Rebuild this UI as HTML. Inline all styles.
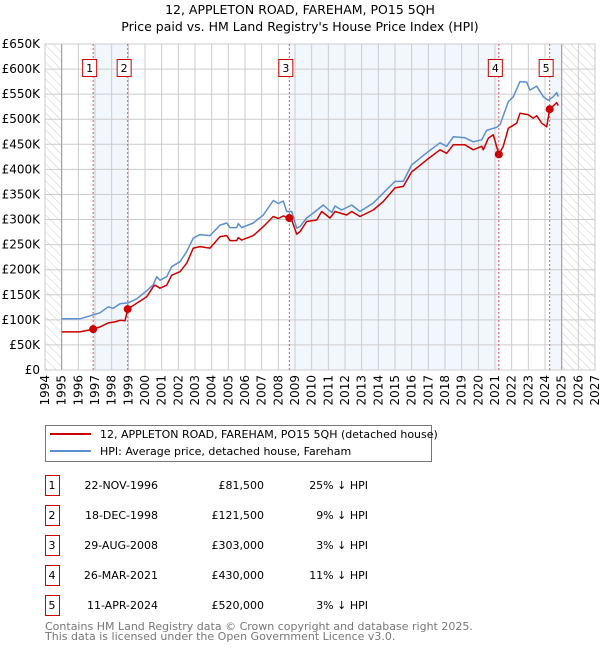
<!DOCTYPE html>
<html><head><meta charset="utf-8"><style>
body{margin:0;background:#fff;width:600px;height:650px;overflow:hidden;font-family:"DejaVu Sans","Liberation Sans",sans-serif}
svg{display:block}
</style></head><body>
<svg id="chart" width="600" height="650" xmlns="http://www.w3.org/2000/svg" font-family="DejaVu Sans, Liberation Sans, sans-serif">
<defs>
<pattern id="hatch" width="6" height="6" patternUnits="userSpaceOnUse" patternTransform="rotate(-45)">
<line x1="0" y1="0" x2="0" y2="6" stroke="#ccc" stroke-width="1"/>
</pattern>
</defs>
<text x="300" y="14" text-anchor="middle" font-size="12.5">12, APPLETON ROAD, FAREHAM, PO15 5QH</text>
<text x="300" y="31" text-anchor="middle" font-size="12.5">Price paid vs. HM Land Registry's House Price Index (HPI)</text>
<g id="plot"></g>
<g id="legend">
<rect x="45.5" y="425.5" width="386" height="36" fill="#fff" stroke="#777"/>
<line x1="50" y1="434" x2="91" y2="434" stroke="#cc0000" stroke-width="2"/>
<text x="100" y="438" font-size="11">12, APPLETON ROAD, FAREHAM, PO15 5QH (detached house)</text>
<line x1="50" y1="451" x2="91" y2="451" stroke="#5b8fd1" stroke-width="2"/>
<text x="100" y="455" font-size="11">HPI: Average price, detached house, Fareham</text>
</g>
<g id="table" font-size="11"></g>
<text x="45" y="630" font-size="11" fill="#777">Contains HM Land Registry data © Crown copyright and database right 2025.</text>
<text x="45" y="640" font-size="11" fill="#777">This data is licensed under the Open Government Licence v3.0.</text>
</svg>
<script>
const hpiYears=[1995,1996.1,1996.5,1997.3,1997.8,1998.1,1998.5,1999,1999.5,2000.1,2000.5,2000.7,2000.9,2001.3,2001.6,2002.1,2002.5,2002.9,2003.3,2003.9,2004.5,2004.9,2005.1,2005.5,2005.6,2005.8,2006.5,2007.1,2007.7,2008,2008.3,2008.5,2008.8,2009.1,2009.3,2009.7,2010.1,2010.7,2011.2,2011.4,2011.8,2012.4,2012.9,2013.7,2014.3,2015,2015.5,2016,2016.9,2017.7,2018.1,2018.5,2019.2,2019.7,2020.2,2020.5,2021.1,2021.3,2021.8,2022.1,2022.5,2022.9,2023.1,2023.5,2023.9,2024.2,2024.5,2024.7,2024.8];
const hpiValues=[102,102,106,114,126,123,132,134,142,158,170,186,179,186,206,216,236,263,270,268,289,293,284,284,292,284,293,309,338,332,337,316,316,283,286,303,313,329,314,327,319,329,316,333,353,376,376,409,433,453,446,465,463,455,459,478,484,489,535,545,575,574,558,566,545,538,545,553,545];
const priceYears=[1995,1996.1,1996.9,1997.3,1997.8,1998.2,1998.5,1998.8,1998.96,1999.5,2000.1,2000.5,2000.6,2000.9,2001.3,2001.6,2002.1,2002.5,2002.9,2003.3,2003.9,2004.5,2004.9,2005.1,2005.5,2005.6,2005.8,2006.5,2007.1,2007.7,2008,2008.3,2008.66,2008.8,2009.1,2009.3,2009.7,2010.3,2010.6,2011.1,2011.4,2012.1,2012.4,2012.9,2013.7,2014.3,2015,2015.5,2016,2016.9,2017.7,2018.1,2018.5,2019.2,2019.7,2020.2,2020.3,2020.6,2020.9,2021.23,2021.5,2021.8,2022.3,2022.5,2023,2023.3,2023.5,2023.8,2024.1,2024.28,2024.7,2024.8];
const priceValues=[76,76,81.5,86,94,96,99,98,121.5,133,146,166,169,163,169,189,196,213,243,246,243,266,268,258,258,264,259,268,286,306,302,307,303,299,271,276,296,299,316,303,316,309,316,306,319,336,363,366,395,419,439,432,449,449,439,446,439,462,469,430,446,482,492,512,509,502,507,492,485,520,533,527];
const saleLabels=["1","2","3","4","5"];
const saleYears=[1996.89,1998.96,2008.66,2021.23,2024.28];
const saleValues=[81.5,121.5,303,430,520];
const saleDates=["22-NOV-1996","18-DEC-1998","29-AUG-2008","26-MAR-2021","11-APR-2024"];
const salePrices=["£81,500","£121,500","£303,000","£430,000","£520,000"];
const saleDiffs=["25% ↓ HPI","9% ↓ HPI","3% ↓ HPI","11% ↓ HPI","3% ↓ HPI"];
const yTicks=[0,50,100,150,200,250,300,350,400,450,500,550,600,650];
const yTickLabels=["£0","£50K","£100K","£150K","£200K","£250K","£300K","£350K","£400K","£450K","£500K","£550K","£600K","£650K"];

const X0=45,X1=595,Y0=370,Y1=44;
const x=y=>X0+(y-1994)/33*(X1-X0);
const yv=v=>Y0-v/650*(Y0-Y1);
const NS="http://www.w3.org/2000/svg";
const plot=document.getElementById('plot');
function mk(tag,attrs,parent){const e=document.createElementNS(NS,tag);for(const k in attrs)e.setAttribute(k,attrs[k]);(parent||plot).appendChild(e);return e;}

let r=mk('rect',{x:X0,y:Y1,width:X1-X0,height:Y0-Y1,fill:'#fff'});


// shaded bands
const bandEnds=[saleYears[1],saleYears[3],2025];
[[0,1],[2,3],[4,4]].forEach((p,i)=>{
  const a=x(saleYears[p[0]]),b=x(bandEnds[i]);
  const e=mk('rect',{x:a,y:Y1,width:b-a,height:Y0-Y1,fill:'#eef3fc',opacity:0.75});
  
  
});
// hatched
let h1=mk('rect',{x:X0,y:Y1,width:x(1995)-X0,height:Y0-Y1,fill:'url(#hatch)'});


let h2=mk('rect',{x:x(2025),y:Y1,width:X1-x(2025),height:Y0-Y1,fill:'url(#hatch)'});


// grid
for(let yr=1994;yr<=2027;yr++){
  const g=mk('line',{x1:x(yr),x2:x(yr),y1:Y1,y2:Y0,stroke:'#ccc','stroke-width':1});
  
  
  const t=mk('text',{x:0,y:0,'font-size':12,'text-anchor':'end',transform:`translate(${x(yr)+4},${Y0+5}) rotate(-90)`});
  t.textContent=yr;
  
  
}
yTicks.forEach((v,i)=>{
  const g=mk('line',{x1:X0,x2:X1,y1:yv(v),y2:yv(v),stroke:'#ccc','stroke-width':1});
  
  
  const t=mk('text',{x:40,y:yv(v)+4,'font-size':12,'text-anchor':'end'});
  t.textContent=yTickLabels[i];
  
  
});
let v1=mk('line',{x1:x(1995),x2:x(1995),y1:Y1,y2:Y0,stroke:'#999','stroke-width':1});


let v2=mk('line',{x1:x(2025),x2:x(2025),y1:Y1,y2:Y0,stroke:'#999','stroke-width':1});


let fr=mk('rect',{x:X0,y:Y1,width:X1-X0,height:Y0-Y1,fill:'none',stroke:'#ccc'});


// sale lines
saleYears.forEach((yr,i)=>{
  const l=mk('line',{x1:x(yr),x2:x(yr),y1:Y1,y2:Y0,stroke:'#ee5555','stroke-width':1,'stroke-dasharray':'2,2'});
  
  
});
// series
function pts(xs,vs){return xs.map((a,i)=>x(a).toFixed(1)+','+yv(vs[i]).toFixed(1)).join(' ');}
let hp=mk('polyline',{points:pts(hpiYears,hpiValues),fill:'none',stroke:'#5b8fd1','stroke-width':1.5,'stroke-linejoin':'round'});


let pp=mk('polyline',{points:pts(priceYears,priceValues),fill:'none',stroke:'#cc0000','stroke-width':1.5,'stroke-linejoin':'round'});


saleYears.forEach((yr,i)=>{
  const c=mk('circle',{cx:x(yr),cy:yv(saleValues[i]),r:4,fill:'#cc0000'});
  
  
  const b=mk('rect',{x:x(yr)-10.5,y:59.5,width:14,height:17,fill:'#fff',stroke:'#cc0000'});
  
  
  const t=mk('text',{x:x(yr)-3.5,y:72,'font-size':11,'text-anchor':'middle'});
  t.textContent=saleLabels[i];
  
  
});
// table
const tbl=document.getElementById('table');
saleLabels.forEach((lab,i)=>{
  const yy=475+i*30;
  const b=mk('rect',{x:45.5,y:yy+0.5,width:14,height:20,fill:'#fff',stroke:'#cc0000'},tbl);
  
  
  const cells=[[52,'middle',lab,'table-row-number'],[158,'end',saleDates[i],'table-date'],[264,'end',salePrices[i],'table-price'],[368,'end',saleDiffs[i],'table-hpi-diff']];
  cells.forEach(c=>{
    const t=mk('text',{x:c[0],y:yy+14,'text-anchor':c[1],'font-size':11},tbl);
    t.textContent=c[2];
    
    
  });
});
</script>
</body></html>
